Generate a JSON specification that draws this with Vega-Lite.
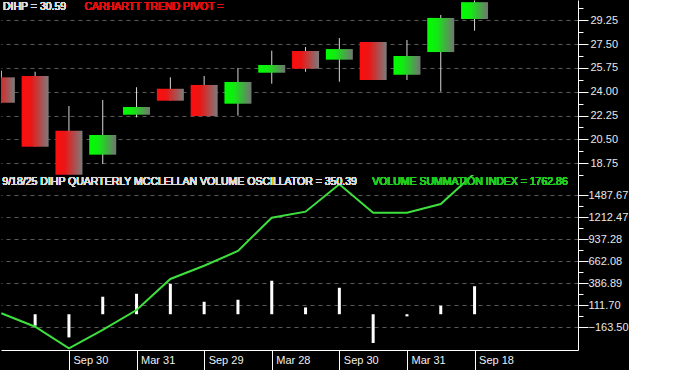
{
  "$schema": "https://vega.github.io/schema/vega-lite/v6.json",
  "background": "black",
  "padding": 0,
  "spacing": 0,
  "bounds": "flush",
  "config": {
    "view": {"stroke": null},
    "axis": {"labelFont": "Liberation Sans", "labelFontSize": 11, "labelColor": "#e8e8e8", "domainColor": "#ffffff", "tickColor": "#ffffff"},
    "text": {"font": "Liberation Sans", "fontSize": 10.5}
  },
  "datasets": {
    "candles": [
      {"i": 0, "open": 25.06, "close": 23.19, "high": 25.55, "low": 23.19},
      {"i": 1, "open": 25.16, "close": 19.96, "high": 25.47, "low": 19.96},
      {"i": 2, "open": 21.13, "close": 17.90, "high": 22.95, "low": 17.90},
      {"i": 3, "open": 19.37, "close": 20.82, "high": 23.39, "low": 18.68},
      {"i": 4, "open": 22.31, "close": 22.88, "high": 24.33, "low": 22.12},
      {"i": 5, "open": 24.22, "close": 23.34, "high": 25.06, "low": 23.34},
      {"i": 6, "open": 24.50, "close": 22.21, "high": 25.16, "low": 22.21},
      {"i": 7, "open": 23.12, "close": 24.72, "high": 25.75, "low": 22.24},
      {"i": 8, "open": 25.40, "close": 25.97, "high": 27.02, "low": 24.59},
      {"i": 9, "open": 27.00, "close": 25.69, "high": 27.29, "low": 25.47},
      {"i": 10, "open": 26.36, "close": 27.14, "high": 27.95, "low": 24.74},
      {"i": 11, "open": 27.66, "close": 24.86, "high": 27.66, "low": 24.86},
      {"i": 12, "open": 25.25, "close": 26.63, "high": 27.81, "low": 24.86},
      {"i": 13, "open": 26.92, "close": 29.43, "high": 29.65, "low": 24.00},
      {"i": 14, "open": 29.35, "close": 30.59, "high": 30.72, "low": 28.49}
    ],
    "osc": [
      {"i": 0, "vsi": 11.6, "mvo": 0},
      {"i": 1, "vsi": -156, "mvo": -144},
      {"i": 2, "vsi": -426, "mvo": -290},
      {"i": 3, "vsi": -197, "mvo": 219},
      {"i": 4, "vsi": 53, "mvo": 256},
      {"i": 5, "vsi": 441, "mvo": 381},
      {"i": 6, "vsi": 607, "mvo": 156},
      {"i": 7, "vsi": 791, "mvo": 181},
      {"i": 8, "vsi": 1208, "mvo": 419},
      {"i": 9, "vsi": 1283, "mvo": 85},
      {"i": 10, "vsi": 1625, "mvo": 331},
      {"i": 11, "vsi": 1270, "mvo": -360},
      {"i": 12, "vsi": 1270, "mvo": -27},
      {"i": 13, "vsi": 1379, "mvo": 106},
      {"i": 14, "vsi": 1762.86, "mvo": 350.39}
    ]
  },
  "vconcat": [
    {
      "width": 577,
      "height": 175,
      "data": {"name": "candles"},
      "encoding": {
        "x": {"field": "i", "type": "quantitative", "scale": {"domain": [-0.01, 17.06], "nice": false, "zero": false, "padding": 0}, "axis": null}
      },
      "layer": [
        {
          "mark": {"type": "rule", "color": "#d8d8d8", "strokeWidth": 1, "clip": true},
          "encoding": {
            "y": {"field": "low", "type": "quantitative", "scale": {"domain": [17.875, 30.75], "nice": false, "zero": false},
              "axis": {
                "orient": "right", "title": null, "tickCount": 100,
                "values": [17.875, 18.75, 19.625, 20.5, 21.375, 22.25, 23.125, 24, 24.875, 25.75, 26.625, 27.5, 28.375, 29.25, 30.125],
                "labelExpr": "indexof([18.75, 20.5, 22.25, 24, 25.75, 27.5, 29.25], datum.value) >= 0 ? format(datum.value, '.2f') : ''",
                "tickSize": {"condition": {"test": "indexof([18.75, 20.5, 22.25, 24, 25.75, 27.5, 29.25], datum.value) >= 0", "value": 10}, "value": 5},
                "labelPadding": 2,
                "grid": true, "gridColor": "#5a5a5a", "gridDash": [4, 4],
                "gridOpacity": {"condition": {"test": "indexof([18.75, 20.5, 22.25, 24, 25.75, 27.5, 29.25], datum.value) >= 0", "value": 1}, "value": 0},
                "labelOverlap": false, "labelFlush": false
              }},
            "y2": {"field": "high"}
          }
        },
        {
          "transform": [{"filter": "datum.close < datum.open"}],
          "mark": {"type": "bar", "size": 27, "clip": true,
            "color": {"gradient": "linear", "x1": 0, "y1": 0, "x2": 1, "y2": 0,
              "stops": [{"offset": 0, "color": "#ff0d0d"}, {"offset": 0.35, "color": "#ea1616"}, {"offset": 1, "color": "#7c7c7c"}]}},
          "encoding": {
            "y": {"field": "open", "type": "quantitative"},
            "y2": {"field": "close"}
          }
        },
        {
          "transform": [{"filter": "datum.close >= datum.open"}],
          "mark": {"type": "bar", "size": 27, "clip": true,
            "color": {"gradient": "linear", "x1": 0, "y1": 0, "x2": 1, "y2": 0,
              "stops": [{"offset": 0, "color": "#00ff00"}, {"offset": 0.35, "color": "#12ea12"}, {"offset": 1, "color": "#737373"}]}},
          "encoding": {
            "y": {"field": "open", "type": "quantitative"},
            "y2": {"field": "close"}
          }
        },
        {
          "mark": {"type": "text", "align": "left", "baseline": "middle", "color": "#dcdcdc", "text": "DIHP = 30.59"},
          "encoding": {"x": {"datum": 0.05}, "y": {"datum": 30.235}}
        },
        {
          "mark": {"type": "text", "align": "left", "baseline": "middle", "color": "#e01010", "text": "CARHARTT TREND PIVOT ="},
          "encoding": {"x": {"datum": 2.46}, "y": {"datum": 30.235}}
        }
      ]
    },
    {
      "width": 577,
      "height": 175,
      "data": {"name": "osc"},
      "encoding": {
        "x": {"field": "i", "type": "quantitative", "scale": {"domain": [-0.01, 17.06], "nice": false, "zero": false, "padding": 0},
          "axis": {
            "title": null, "values": [2, 4, 6, 8, 10, 12, 14], "tickCount": 100,
            "labelExpr": "['','','Sep 30','','Mar 31','','Sep 29','','Mar 28','','Sep 30','','Mar 31','','Sep 18'][datum.value]",
            "tickSize": 20, "labelAlign": "left", "labelBaseline": "middle", "labelPadding": -10, "labelOffset": 4,
            "grid": false, "labelOverlap": false, "labelFlush": false, "labelColor": "#f0f0f0"
          }}
      },
      "layer": [
        {
          "mark": {"type": "rule", "color": "#ffffff", "strokeWidth": 1.5},
          "encoding": {"y": {"datum": 0, "type": "quantitative"}}
        },
        {
          "mark": {"type": "bar", "size": 3, "color": "#ffffff", "clip": true},
          "encoding": {
            "y": {"field": "mvo", "type": "quantitative", "scale": {"domain": [-447.5, 1741.7], "nice": false, "zero": false},
              "axis": {
                "orient": "right", "title": null, "tickCount": 100,
                "values": [-163.5, -25.9, 111.7, 249.3, 386.89, 524.49, 662.08, 799.68, 937.28, 1074.88, 1212.47, 1350.07, 1487.67],
                "labelExpr": "indexof([-163.5, 111.7, 386.89, 662.08, 937.28, 1212.47, 1487.67], datum.value) >= 0 ? format(datum.value, '.2f') : ''",
                "tickSize": {"condition": {"test": "indexof([-163.5, 111.7, 386.89, 662.08, 937.28, 1212.47, 1487.67], datum.value) >= 0", "value": 10}, "value": 5},
                "labelPadding": 0,
                "grid": true, "gridColor": "#5a5a5a", "gridDash": [4, 4],
                "gridOpacity": {"condition": {"test": "indexof([-163.5, 111.7, 386.89, 662.08, 937.28, 1212.47, 1487.67], datum.value) >= 0", "value": 1}, "value": 0},
                "labelOverlap": false, "labelFlush": false
              }},
            "y2": {"datum": 0}
          }
        },
        {
          "mark": {"type": "line", "color": "#3ee03e", "strokeWidth": 2, "clip": true},
          "encoding": {"y": {"field": "vsi", "type": "quantitative"}}
        },
        {
          "mark": {"type": "text", "align": "left", "baseline": "middle", "color": "#dcdcdc", "text": "9/18/25  DIHP QUARTERLY MCCLELLAN VOLUME OSCILLATOR = 350.39"},
          "encoding": {"x": {"datum": 0.03}, "y": {"datum": 1654}}
        },
        {
          "mark": {"type": "text", "align": "left", "baseline": "middle", "color": "#22cc22", "text": "VOLUME SUMMATION INDEX = 1762.86"},
          "encoding": {"x": {"datum": 10.97}, "y": {"datum": 1654}}
        }
      ]
    }
  ]
}
